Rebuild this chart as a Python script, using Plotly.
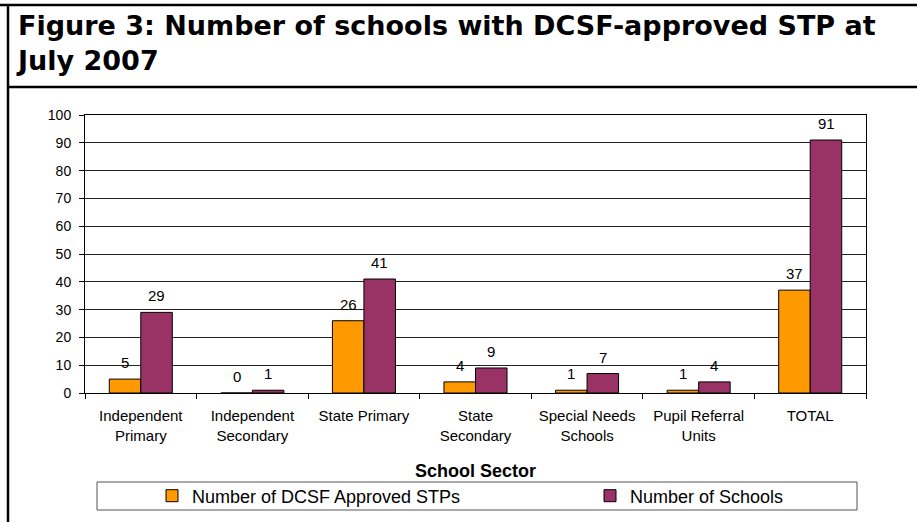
import plotly.graph_objects as go

categories = ["Independent<br>Primary", "Independent<br>Secondary", "State Primary",
              "State<br>Secondary", "Special Needs<br>Schools", "Pupil Referral<br>Units", "TOTAL"]
approved_stps = [5, 0, 26, 4, 1, 1, 37]
num_schools = [29, 1, 41, 9, 7, 4, 91]
series_names = ["Number of DCSF Approved STPs", "Number of Schools"]
y_ticks = list(range(0, 101, 10))

W, H = 917, 522
L, R, T, B = 85, 866, 115, 393
FONT = "Liberation Sans, Arial, sans-serif"
TITLE_FONT = "DejaVu Sans, Liberation Sans, sans-serif"


def px_x(px):
    return (px - L) / (R - L)


def px_y(py):
    return (B - py) / (B - T)


fig = go.Figure()
fig.add_trace(go.Bar(x=categories, y=approved_stps, name=series_names[0],
                     marker=dict(color="#FF9900", line=dict(color="black", width=1)),
                     legend="legend", showlegend=True))
fig.add_trace(go.Bar(x=categories, y=num_schools, name=series_names[1],
                     marker=dict(color="#993366", line=dict(color="black", width=1)),
                     legend="legend2", showlegend=True))

annotations = []
for cat, v in zip(categories, approved_stps):
    annotations.append(dict(x=cat, y=v, xref="x", yref="y", text=str(v), showarrow=False,
                            xshift=-15.8, yshift=16.5, yanchor="middle",
                            font=dict(family=FONT, size=15, color="black")))
for cat, v in zip(categories, num_schools):
    annotations.append(dict(x=cat, y=v, xref="x", yref="y", text=str(v), showarrow=False,
                            xshift=15.8, yshift=16.5, yanchor="middle",
                            font=dict(family=FONT, size=15, color="black")))

annotations.append(dict(
    x=px_x(14), y=px_y(8), xref="paper", yref="paper", xanchor="left", yanchor="top",
    align="left", showarrow=False,
    text="<b>Figure 3: Number of schools with DCSF-approved STP at<br>July 2007</b>",
    font=dict(family=TITLE_FONT, size=27, color="black")))

shapes = [
    # top frame line
    dict(type="line", xref="paper", yref="paper", x0=px_x(0), x1=px_x(W), y0=px_y(5), y1=px_y(5),
         line=dict(color="black", width=2.5)),
    # title separator
    dict(type="line", xref="paper", yref="paper", x0=px_x(8), x1=px_x(W), y0=px_y(87), y1=px_y(87),
         line=dict(color="black", width=2.5)),
    # left frame line
    dict(type="line", xref="paper", yref="paper", x0=px_x(8), x1=px_x(8), y0=px_y(4), y1=px_y(H),
         line=dict(color="black", width=2.5)),
    # legend box
    dict(type="rect", xref="paper", yref="paper", x0=px_x(97), x1=px_x(857), y0=px_y(482), y1=px_y(510),
         line=dict(color="#555555", width=1), fillcolor="rgba(0,0,0,0)"),
]

fig.update_layout(
    width=W, height=H,
    margin=dict(l=L, r=W - R, t=T, b=H - B, pad=0, autoexpand=False),
    paper_bgcolor="white", plot_bgcolor="white",
    font=dict(family=FONT, color="black"),
    showlegend=True,
    barmode="group", bargap=0.435, bargroupgap=0,
    annotations=annotations, shapes=shapes,
    legend=dict(orientation="h", x=px_x(152), y=px_y(496), xanchor="left", yanchor="middle",
                font=dict(family=FONT, size=18, color="black"), bgcolor="rgba(0,0,0,0)"),
    legend2=dict(orientation="h", x=px_x(590), y=px_y(496), xanchor="left", yanchor="middle",
                 font=dict(family=FONT, size=18, color="black"), bgcolor="rgba(0,0,0,0)"),
    xaxis=dict(type="category", tickson="boundaries", ticks="outside", ticklen=5,
               tickcolor="black", showline=True, linecolor="black", linewidth=1, mirror=True,
               ticklabelstandoff=9, automargin=False,
               tickfont=dict(family=FONT, size=15, color="black"),
               title=dict(text="<b>School Sector</b>", font=dict(family=FONT, size=18, color="black"),
                          standoff=21)),
    yaxis=dict(range=[0, 100], tickvals=y_ticks, ticks="outside", ticklen=5, tickcolor="black",
               showline=True, linecolor="black", linewidth=1, mirror=True,
               ticklabelstandoff=5, automargin=False,
               showgrid=True, gridcolor="#222222", gridwidth=1, zeroline=False,
               tickfont=dict(family=FONT, size=14, color="black")),
)

fig.write_html("out.html", config={"displayModeBar": False},
               post_script="document.body.style.margin='0px';")
